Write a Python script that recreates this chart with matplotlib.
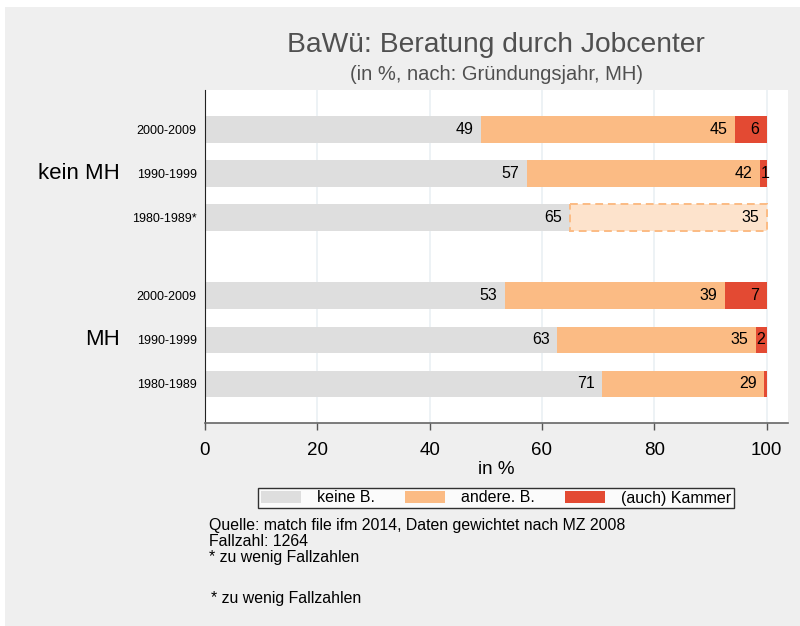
import numpy as np
import matplotlib.pyplot as plt
from matplotlib.patches import Rectangle, Patch

plt.rcParams['font.family'] = ['Liberation Sans', 'DejaVu Sans']

# Daten (von oben nach unten)
groups = ["kein MH", "kein MH", "kein MH", "MH", "MH", "MH"]
periods = ["2000-2009", "1990-1999", "1980-1989*", "2000-2009", "1990-1999", "1980-1989"]
keine = [49.2, 57.3, 65.0, 53.4, 62.7, 70.7]
andere = [45.1, 41.6, 35.0, 39.2, 35.4, 28.9]
kammer = [5.7, 1.2, 0.0, 7.4, 1.9, 0.4]
few_cases = [False, False, True, False, False, False]
series_names = ["keine B.", "andere. B.", "(auch) Kammer"]

title = "BaWü: Beratung durch Jobcenter"
subtitle = "(in %, nach: Gründungsjahr, MH)"
notes = "Quelle: match file ifm 2014, Daten gewichtet nach MZ 2008\nFallzahl: 1264\n* zu wenig Fallzahlen"
note2 = "* zu wenig Fallzahlen"

# Farben
c_gray = "#dedede"
c_orange = "#fbbb84"
c_red = "#e34a33"
c_light = "#fde3cc"
bg = "#efefef"

# Positionen: zusätzlicher Abstand zwischen den Gruppen
GROUP_GAP = 0.78
ypos = []
y = 0.0
for i, g in enumerate(groups):
    if i > 0 and g != groups[i - 1]:
        y += GROUP_GAP
    ypos.append(y)
    y += 1
ypos = np.array(ypos)
H = 0.604

fig = plt.figure(figsize=(8, 6.26), dpi=100, facecolor=bg)
fig.patches.append(Rectangle((0, 1 - 7 / 626), 1, 7 / 626, transform=fig.transFigure,
                             facecolor="white", edgecolor="none", zorder=0))
fig.patches.append(Rectangle((0, 0), 5 / 800, 1, transform=fig.transFigure,
                             facecolor="white", edgecolor="none", zorder=0))

ax = fig.add_axes([205 / 800, 203 / 626, 583 / 800, 333 / 626])
ax.set_facecolor("white")

keine = np.array(keine)
andere = np.array(andere)
kammer = np.array(kammer)

ax.barh(ypos, keine, height=H, color=c_gray, edgecolor="none", zorder=2)
for i in range(len(ypos)):
    if few_cases[i]:
        ax.barh(ypos[i], andere[i], left=keine[i], height=H, color=c_light,
                edgecolor=c_orange, linestyle=(0, (4, 2.5)), linewidth=1.4, zorder=2)
    else:
        ax.barh(ypos[i], andere[i], left=keine[i], height=H, color=c_orange,
                edgecolor="none", zorder=2)
ax.barh(ypos, kammer, left=keine + andere, height=H, color=c_red, edgecolor="none", zorder=2)

# Beschriftungen in den Balken
for i in range(len(ypos)):
    starts = [0, keine[i], keine[i] + andere[i]]
    vals = [keine[i], andere[i], kammer[i]]
    for s, v in zip(starts, vals):
        if round(v) < 1:
            continue
        if v < 3:
            ax.annotate(f"{round(v)}", (s, ypos[i]), xytext=(0, 0), textcoords="offset points",
                        ha="left", va="center", fontsize=11.5, zorder=3)
        else:
            ax.annotate(f"{round(v)}", (s + v, ypos[i]), xytext=(-5.5, 0), textcoords="offset points",
                        ha="right", va="center", fontsize=11.5, zorder=3)

ax.set_xlim(0, 103.8)
ax.set_ylim(ypos[-1] + 0.887, ypos[0] - 0.89)
ax.set_xticks([0, 20, 40, 60, 80, 100])
ax.tick_params(axis="x", labelsize=13.5, length=5, width=1, color="#555555", pad=9)
ax.set_yticks(ypos)
ax.set_yticklabels(periods, fontsize=9)
ax.tick_params(axis="y", length=0, pad=6)
ax.xaxis.grid(True, color="#eaf0f4", linewidth=1.2, zorder=0)
ax.set_axisbelow(True)
ax.set_xlabel("in %", fontsize=13.5, labelpad=1)

for s in ["top", "right"]:
    ax.spines[s].set_visible(False)
ax.spines["left"].set_color("#222222")
ax.spines["bottom"].set_color("#666666")
ax.spines["bottom"].set_linewidth(1.2)
ax.xaxis.get_major_ticks()[0].tick1line.set_color("#222222")

# Gruppenbeschriftungen
trans = ax.get_yaxis_transform()
for g in dict.fromkeys(groups):
    idx = [i for i, gg in enumerate(groups) if gg == g]
    ax.text(-85 / 583, ypos[idx].mean(), g, transform=trans, ha="right", va="center", fontsize=16)

# Titel
fig.text(496 / 800, 1 - 45 / 626, title, ha="center", va="center", fontsize=20.3, color="#505050")
fig.text(497 / 800, 1 - 75 / 626, subtitle, ha="center", va="center", fontsize=14.5, color="#505050")

# Legende
handles = [Patch(facecolor=c, edgecolor="none") for c in [c_gray, c_orange, c_red]]
leg = fig.legend(handles, series_names, loc="center", bbox_to_anchor=(496 / 800, 1 - 498 / 626),
                 ncol=3, fontsize=11.5, frameon=True, fancybox=False, borderpad=0.15,
                 handlelength=2.5, handleheight=0.7, handletextpad=1.0, columnspacing=1.9,
                 borderaxespad=0)
leg.get_frame().set_edgecolor("black")
leg.get_frame().set_linewidth(1)
leg.get_frame().set_facecolor("white")

# Anmerkungen
fig.text(209 / 800, 1 - 518 / 626, notes, ha="left", va="top", fontsize=11.4, linespacing=1.07)
fig.text(211 / 800, 1 - 598 / 626, note2, ha="left", va="center", fontsize=11.4)

fig.savefig("out.png", dpi=100, facecolor=bg)
